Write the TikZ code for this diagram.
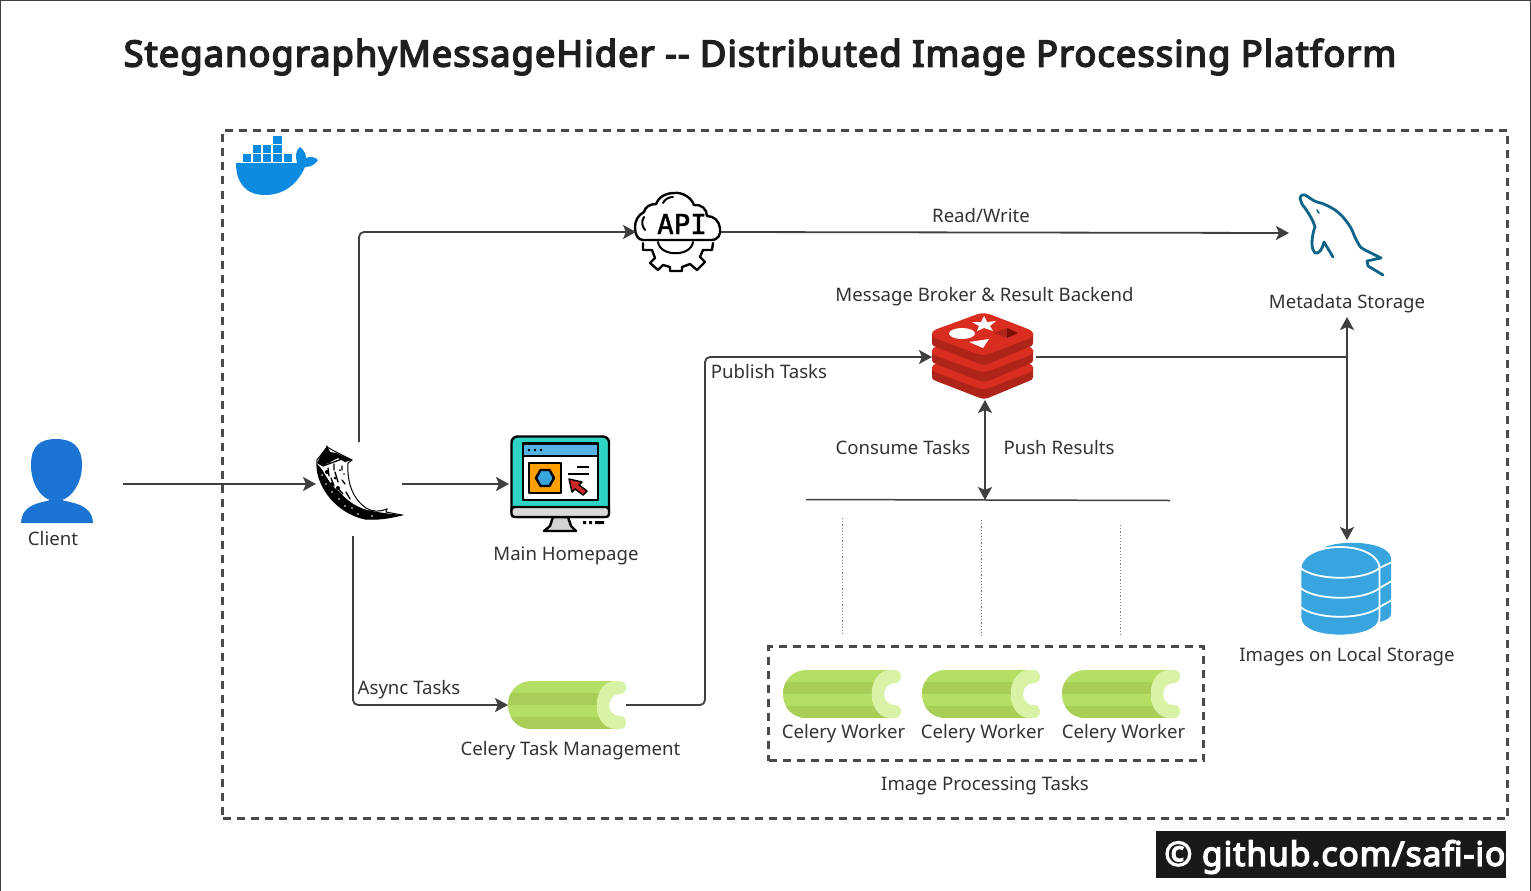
\documentclass[tikz,border=0pt]{standalone}
\usepackage{fontspec}
\setmainfont{Noto Sans}
\newfontfamily\titlefont[FakeBold=4.2,LetterSpace=3.0]{Noto Sans}
\newfontfamily\apifont[FakeBold=1.5]{DejaVu Sans Mono}
\usetikzlibrary{arrows.meta,calc}
\definecolor{ink}{HTML}{3F3F3F}
\definecolor{dashc}{HTML}{4A4A4A}
\definecolor{txt}{HTML}{333333}
\definecolor{celL}{HTML}{B4DE64}
\definecolor{celD}{HTML}{A8CE58}
\definecolor{celC}{HTML}{D8F2A6}
\definecolor{rL}{HTML}{D92D20}
\definecolor{rD}{HTML}{AE2418}
\definecolor{rX}{HTML}{7A0F05}
\definecolor{dockb}{HTML}{0D8BE0}
\definecolor{userb}{HTML}{1B74D2}
\definecolor{dbb}{HTML}{38A5DF}
\definecolor{teal}{HTML}{2FD3C6}
\definecolor{myb}{HTML}{0E6488}
\tikzset{
  hit/.style={inner sep=0pt,outer sep=0pt,minimum width=#1},
  lbl/.style={text=txt,font=\fontsize{18.6}{22}\selectfont,inner sep=0pt,outer sep=0pt,text height=17pt,text depth=2pt},
  conn/.style={draw=ink,line width=1.8pt,rounded corners=5pt},
  tip/.style={-{Stealth[length=13pt,width=14pt,inset=3pt]}},
  tips/.style={{Stealth[length=13pt,width=14pt,inset=3pt]}-{Stealth[length=13pt,width=14pt,inset=3pt]}},
  dashbox/.style={draw=dashc,line width=2.2pt,dash pattern=on 8pt off 6pt},
  dots/.style={draw=gray,line width=0.9pt,dash pattern=on 1.2pt off 2pt},
  blk/.style={draw=black,line width=2.4pt,line join=round,line cap=round},
}
\newcommand{\celeryicon}[2]{%
\begin{scope}[shift={(#1,#2)}]
 \begin{scope}
  \clip (24,0) -- (106,0) .. controls (83,3) and (83,45) .. (106,48) -- (24,48) .. controls (8,48) and (0,36) .. (0,24) .. controls (0,12) and (8,0) .. (24,0) -- cycle;
  \fill[celL] (0,0) rectangle (118,48);
  \fill[celD] (0,12) rectangle (118,24);
  \fill[celD] (0,36) rectangle (118,48);
 \end{scope}
 \fill[celC] (106,0) -- (112,0) .. controls (120,0) and (120,13) .. (112,13) .. controls (98,13) and (97,35) .. (112,35) .. controls (120,35) and (120,48) .. (112,48) -- (106,48) .. controls (83,45) and (83,3) .. (106,0) -- cycle;
\end{scope}}
\newcommand{\redislayer}[3]{%
 \fill[#3] (932,#1+20) -- (932,#1+30) .. controls (932,#1+32) and (933,#1+33) .. (936,#1+34) -- (980,#1+51) .. controls (983,#1+52) and (985,#1+52) .. (988,#1+51) -- (1029,#1+34) .. controls (1032,#1+33) and (1033,#1+32) .. (1033,#1+30) -- (1033,#1+20) -- cycle;
 \fill[#2] (937,#1+16) -- (978,#1+1) .. controls (982,#1) and (985,#1) .. (989,#1+1) -- (1028,#1+16) .. controls (1035,#1+19) and (1035,#1+23) .. (1028,#1+26) -- (989,#1+41) .. controls (985,#1+42) and (982,#1+42) .. (978,#1+41) -- (937,#1+26) .. controls (930,#1+23) and (930,#1+19) .. (937,#1+16) -- cycle;}
\begin{document}
\begin{tikzpicture}[x=1pt,y=-1pt]
\useasboundingbox (0,0) rectangle (1531,891);
\fill[white] (0,0) rectangle (1531,891);
\draw[color=ink,line width=1.2pt] (0.6,891) -- (0.6,0.6) -- (1530.4,0.6) -- (1530.4,891);

% title
\node[text=black!88,font=\titlefont\fontsize{36.2}{42}\selectfont,inner sep=0pt] (title) at (760,57) {SteganographyMessageHider -{}- Distributed Image Processing Platform};

% containers
\node[dashbox,hit=1285pt,minimum height=688pt,anchor=north west] (docker) at (222.5,130.5) {};
\node[dashbox,hit=435pt,minimum height=114pt,anchor=north west] (group) at (768.5,646.5) {};

% placement nodes of the icons
\node[hit=108pt,minimum height=96pt] (client) at (69,484) {};
\node[hit=86pt,minimum height=84pt] (flask) at (359,484) {};
\node[hit=100pt,minimum height=96pt] (home) at (559,484) {};
\node[hit=85pt,minimum height=80pt] (api) at (678.5,232) {};
\node[hit=102pt,minimum height=90pt] (mysql) at (1340,233) {};
\node[hit=104pt,minimum height=86pt] (redis) at (984,357) {};
\node[hit=92pt,minimum height=100pt] (db) at (1346,590) {};
\node[hit=118pt,minimum height=48pt] (task) at (567,705) {};
\node[hit=119pt,minimum height=48pt] (w1) at (842.5,694) {};
\node[hit=119pt,minimum height=48pt] (w2) at (981.5,694) {};
\node[hit=119pt,minimum height=48pt] (w3) at (1121.5,694) {};

% whale
\begin{scope}
 \fill[dockb] (236,163) -- (297,163) .. controls (295,156) and (296,150) .. (300,147) .. controls (304,150) and (306,154) .. (306,158) .. controls (310,156) and (315,157) .. (318,160) .. controls (315,165) and (310,167) .. (305,167) .. controls (298,183) and (285,195) .. (265,195) .. controls (245,195) and (236,182) .. (236,163) -- cycle;
 \foreach \cx/\cy in {243/154,253.2/154,263.2/154,273.4/154,284/154,253.2/145,263.2/145,273.4/145,273.4/135.5}
   \fill[dockb] (\cx,\cy) rectangle ++(8.2,8.2);
\end{scope}

% client
\fill[userb] (56,439) .. controls (72,439) and (82,446) .. (82,465) .. controls (82,483) and (72,497) .. (62,500) .. controls (70,503) and (92,503) .. (93,523) -- (21,523) .. controls (22,503) and (42,503) .. (50,500) .. controls (40,497) and (31,483) .. (31,465) .. controls (31,446) and (40,439) .. (56,439) -- cycle;

% flask horn
\begin{scope}
 \draw[black,line width=1pt,fill=white] (327,447) -- (336,452) -- (352,460) -- (348,463) .. controls (347,482) and (352,498) .. (366,508) .. controls (372,512) and (380,512) .. (387,509) -- (386,512) -- (402,515) .. controls (390,518) and (378,520) .. (365,519) .. controls (350,516) and (336,506) .. (328,495) .. controls (320,484) and (316,472) .. (317,460) -- cycle;
 \fill[black] (327,445) -- (330,452) -- (336,453) -- (352,460) -- (345,462) -- (338,458) -- (322,466) -- (317,463) -- (322,453) -- (325,450) -- cycle;
 \fill[black] (317,464) .. controls (325,470) and (327,484) .. (340,492) .. controls (346,500) and (358,509) .. (372,511) .. controls (382,513) and (392,514) .. (402,515) .. controls (390,518) and (378,520) .. (365,519) .. controls (350,516) and (336,506) .. (328,495) .. controls (320,484) and (316,472) .. (317,464) -- cycle;
 \fill[white] (322,475) circle (0.9) (326,484) circle (0.9) (332,492) circle (0.9) (339,499) circle (0.9) (345,506) circle (0.8) (352,508) circle (0.8) (358,514) circle (0.9) (372,516) circle (0.8);
 \draw[black,line width=1.3pt,line cap=round] (323,466) -- (342,459) (328,468) -- (329,476) (334,464) -- (334,470) (335,472) -- (338,482) (342,466) -- (342,470) (331,478) -- (334,486) (337,487) -- (343,494) (342,480) -- (345,484) (346,492) -- (350,499);
 \fill[black] (327,472) circle (2) (335,478) circle (1.5) (338,488) circle (2) (332,484) circle (2) (344,474) circle (0.9) (340,470) circle (1) (329,462) circle (1.6);
\end{scope}

% monitor
\begin{scope}
 \draw[blk,fill=gray!35] (553,517) -- (568,517) -- (571,526) -- (576,531) -- (544,531) -- (550,526) -- cycle;
 \draw[blk,fill=teal,rounded corners=6pt] (511.5,436.5) rectangle (609,517);
 \draw[blk,fill=gray!30,rounded corners=3pt] (511.5,507) rectangle (609,517);
 \draw[blk,fill=white] (523,443.5) rectangle (598,500);
 \draw[blk,fill=dbb!85] (523,443.5) rectangle (598,456);
 \fill[black] (529,450) circle (1.3) (535,450) circle (1.3) (541,450) circle (1.3);
 \draw[blk,fill=orange!75!yellow] (529,463) rectangle (561,493);
 \draw[blk,fill=dbb] (554,478) -- (549.5,470) -- (540.5,470) -- (536,478) -- (540.5,486) -- (549.5,486) -- cycle;
 \draw[blk,line cap=butt] (577,467) -- (589,467) (568,474) -- (589,474);
 \draw[black,line width=1.4pt,line join=round,fill=red!75!black!85] (569,479) -- (582,482) -- (579,485) -- (587,491) -- (583,495) -- (575,489) -- (572,492) -- cycle;
 \fill[black] (583,521) rectangle ++(3,3) (589,521) rectangle ++(3,3) (595,521) rectangle ++(9,3);
\end{scope}

% API cloud + gear
\begin{scope}
 \draw[blk,fill=white] (643,240) -- (711,240) .. controls (718,240) and (721,235) .. (720,228) .. controls (719,221) and (714,216) .. (707,216) .. controls (707,209) and (701,204) .. (694,205) .. controls (691,197) and (682,192) .. (674,193) .. controls (665,193) and (658,198) .. (656,204) .. controls (650,204) and (645,207) .. (644,212) .. controls (638,215) and (635,221) .. (635,227) .. controls (635,235) and (638,240) .. (643,240);
 \draw[blk,line width=2pt] (644,217) .. controls (641,222) and (642,226) .. (645,230);
 \draw[blk,line width=2pt] (663,203) .. controls (665,199) and (669,197) .. (673,197);
 \draw[blk,line width=2pt] (658,242) .. controls (660,257) and (691,257) .. (693,242);
 \node[font=\apifont\fontsize{27.5}{28}\selectfont,text=black,inner sep=0pt] (apitxt) at (682,224) {API};
 \draw[blk] (643,243) -- (643,250) -- (652,250) -- (655,258) -- (650,263) -- (658,270) -- (663,265) -- (670,267) -- (670,271) -- (682,271) -- (682,267) -- (690,264) -- (697,270) -- (705,262) -- (700,257) -- (703,250) -- (712,250) -- (713,243);
\end{scope}

% mysql dolphin
\begin{scope}
 \draw[myb,line width=2.8pt,line join=round,line cap=round] (1300,198) .. controls (1301,195) and (1303,194) .. (1305,195) .. controls (1309,197) and (1313,201) .. (1317,202) .. controls (1322,203) and (1326,205) .. (1330,207) .. controls (1336,210) and (1340,214) .. (1343,217) .. controls (1347,222) and (1350,226) .. (1352,230) .. controls (1354,235) and (1356,240) .. (1358,243) .. controls (1360,247) and (1362,249) .. (1365,250) -- (1381,258) -- (1367,261) -- (1368,266) -- (1383,275);
 \draw[myb,line width=2.8pt,line join=round,line cap=round] (1300,198) .. controls (1301,203) and (1303,206) .. (1305,208) .. controls (1309,214) and (1313,220) .. (1315,227) .. controls (1313,232) and (1312,238) .. (1312,243) .. controls (1312,248) and (1313,251) .. (1315,253) .. controls (1319,254) and (1322,250) .. (1324,242) -- (1333,257);
 \draw[myb,line width=1.6pt,line cap=round] (1317,210) -- (1319,213);
\end{scope}

% redis
\begin{scope}
 \redislayer{347}{rL}{rD}
 \redislayer{330}{rL}{rD}
 \redislayer{313}{rL}{rD}
 \fill[white] (984,316) -- (987,322) -- (996,321) -- (990,326) -- (993,331) -- (984,328) -- (977,331) -- (979,326) -- (972,322) -- (981,322) -- cycle;
 \fill[white] (962,333.5) ellipse (13 and 5.5);
 \fill[white] (969,342) -- (989,339) -- (983,348) -- cycle;
 \fill[rD] (993,333) -- (1007,328) -- (1007,338) -- cycle;
 \fill[rX] (1007,328) -- (1018,333) -- (1007,338) -- cycle;
\end{scope}

% database
\begin{scope}
 \fill[dbb] (1325,547) .. controls (1345,539) and (1391,542) .. (1391,559) -- (1391,614) .. controls (1391,618) and (1385,621) .. (1379,622) -- (1340,622) -- cycle;
 \fill[dbb,draw=white,line width=1.8pt] (1300.5,568) .. controls (1300.5,556) and (1318,547) .. (1340,547) .. controls (1362,547) and (1379.5,556) .. (1379.5,568) -- (1379.5,618) .. controls (1379.5,629) and (1362,635.5) .. (1340,635.5) .. controls (1318,635.5) and (1300.5,629) .. (1300.5,618) -- cycle;
 \draw[white,line width=1.8pt] (1300.5,568) .. controls (1316,581) and (1364,581) .. (1379.5,568);
 \draw[white,line width=1.8pt] (1300.5,588) .. controls (1316,601) and (1364,601) .. (1379.5,588);
 \draw[white,line width=1.8pt] (1300.5,607) .. controls (1316,620) and (1364,620) .. (1379.5,607);
 \draw[white,line width=1.8pt] (1379.5,568) -- (1392,562) (1379.5,588) -- (1392,581) (1379.5,607) -- (1392,600);
\end{scope}

% celery
\celeryicon{508}{681}
\celeryicon{783}{670}
\celeryicon{922}{670}
\celeryicon{1062}{670}

% labels
\node[lbl] (lclient) at (53,538) {Client};
\node[lbl] (lhome) at (566,553) {Main Homepage};
\node[lbl] (lrw) at (981,215) {Read/Write};
\node[lbl] (lmeta) at (1347,301) {Metadata Storage};
\node[lbl] (lbroker) at (984.5,294) {Message Broker \& Result Backend};
\node[lbl] (lpub) at (769,371) {Publish Tasks};
\node[lbl] (lcons) at (903,447) {Consume Tasks};
\node[lbl] (lpush) at (1059,447) {Push Results};
\node[lbl] (lasync) at (409,687) {Async Tasks};
\node[lbl] (ltask) at (570.5,748) {Celery Task Management};
\node[lbl] (lw1) at (843.5,731) {Celery Worker};
\node[lbl] (lw2) at (982.5,731) {Celery Worker};
\node[lbl] (lw3) at (1123.5,731) {Celery Worker};
\node[lbl] (lgroup) at (985,783) {Image Processing Tasks};
\node[lbl] (ldb) at (1347,654) {Images on Local Storage};

% watermark
\node[fill=black!90,hit=350pt,minimum height=47pt,anchor=north west] (mark) at (1155.5,830.5) {};
\node[anchor=east,text=white,font=\titlefont\fontsize{33.5}{40}\selectfont,inner sep=0pt] (marktxt) at ([yshift=-3pt]mark.east) {© github.com/safi-io};

% connectors
\coordinate (bus) at (985,500);
\coordinate (busL) at (806,499.5);
\coordinate (busR) at (1170,500.5);
\coordinate (pub) at (705,357);
\coordinate (metaport) at (1347,317);
\draw[conn,tip] (client.east) -- (flask.west);
\draw[conn,tip] (flask.east) -- (home.west);
\draw[conn,tip] (flask.north) |- (api.west);
\draw[conn,tip] (api.east) -- (mysql.west);
\draw[conn,tip] ([shift={(-6pt,-10pt)}]flask.south) |- (task.west);
\draw[conn,tip] (task.east) -| (pub) -- (redis.west);
\draw[conn] (redis.east) -- (redis.east -| metaport);
\draw[conn,tips] (metaport) -- (metaport |- db.north);
\draw[conn,tips] (redis.south -| bus) -- (bus);
\draw[ink,line width=1.5pt] (busL) -- (busR);
\coordinate (d1a) at (842,518); \coordinate (d1b) at (842,636);
\coordinate (d2a) at (981,520); \coordinate (d2b) at (981,636);
\coordinate (d3a) at (1120,525); \coordinate (d3b) at (1120,636);
\draw[dots] (d1a) -- (d1b);
\draw[dots] (d2a) -- (d2b);
\draw[dots] (d3a) -- (d3b);
\end{tikzpicture}
\end{document}
